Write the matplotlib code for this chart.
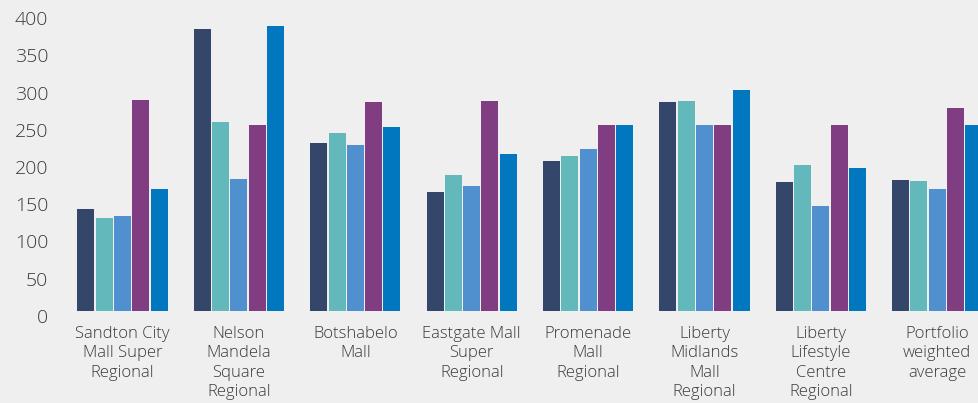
import numpy as np
import matplotlib
matplotlib.use("Agg")
import matplotlib.pyplot as plt
import matplotlib.transforms as mtransforms

# Kategoriler ve seriler
categories = [
    "Sandton City\nMall Super\nRegional",
    "Nelson\nMandela\nSquare\nRegional",
    "Botshabelo\nMall",
    "Eastgate Mall\nSuper\nRegional",
    "Promenade\nMall\nRegional",
    "Liberty\nMidlands\nMall\nRegional",
    "Liberty\nLifestyle\nCentre\nRegional",
    "Portfolio\nweighted\naverage",
]
series_1 = [137, 378, 226, 160, 202, 281, 173, 176]
series_2 = [125, 254, 239, 183, 208, 282, 196, 175]
series_3 = [128, 177, 223, 168, 218, 250, 141, 164]
series_4 = [283, 249, 280, 282, 249, 249, 249, 273]
series_5 = [164, 382, 247, 211, 249, 296, 192, 249]
y_ticks = [0, 50, 100, 150, 200, 250, 300, 350, 400]

colors = ["#34466a", "#63b8bb", "#5190cf", "#813d82", "#0077bf"]
bg = "#efefef"
text_col = "#3a3a3a"

W, H = 979, 403
fig = plt.figure(figsize=(W / 100, H / 100), dpi=100, facecolor=bg)

# eksen piksel konumları
ax_left, ax_bottom = 60, H - 311
ax = fig.add_axes([ax_left / W, ax_bottom / H, (W - ax_left) / W, (H - ax_bottom) / H])
ax.set_facecolor(bg)

px_per_group = 116.4
first_center = 122.5
ax.set_xlim((ax_left - first_center) / px_per_group, (W - first_center) / px_per_group)
ax.set_ylim(0, 311 / 0.745)

x = np.arange(len(categories))
pitch = 18.3 / px_per_group
bw = 17.0 / px_per_group
all_series = [series_1, series_2, series_3, series_4, series_5]
for j, vals in enumerate(all_series):
    ax.bar(x + (j - 2) * pitch, vals, width=bw, color=colors[j], linewidth=0)

for s in ax.spines.values():
    s.set_visible(False)

font = dict(family=["Open Sans", "DejaVu Sans"], weight="light")
ax.set_yticks(y_ticks)
ax.set_yticklabels([str(v) for v in y_ticks], color=text_col, fontsize=14, **font)
ax.set_xticks(x)
ax.set_xticklabels(categories, color=text_col, fontsize=12, linespacing=1.3,
                   va="top", ha="center", **font)
ax.tick_params(axis="both", length=0)
ax.tick_params(axis="y", pad=8.5)
ax.tick_params(axis="x", pad=10.5)

# y etiketlerini biraz asagi kaydir
off = mtransforms.ScaledTranslation(0, -5 / 100, fig.dpi_scale_trans)
for lbl in ax.get_yticklabels():
    lbl.set_transform(lbl.get_transform() + off)

fig.savefig("out.png", dpi=100, facecolor=bg)
